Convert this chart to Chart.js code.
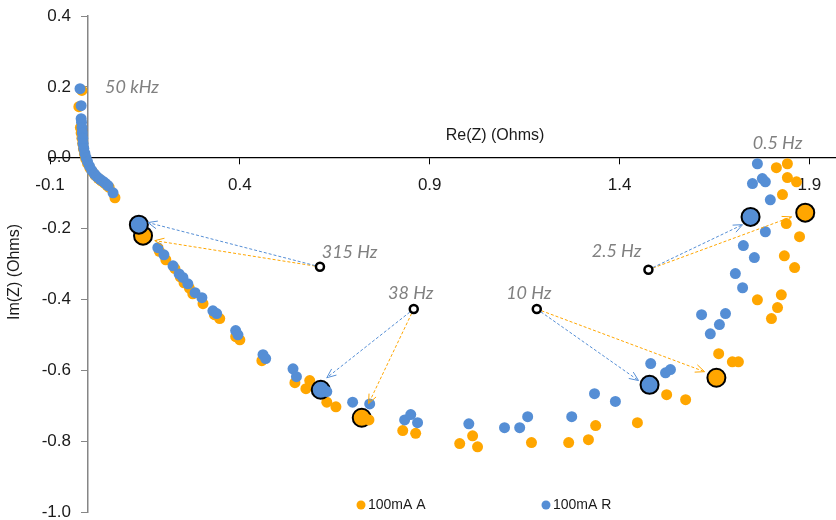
<!DOCTYPE html>
<html>
<head>
<meta charset="utf-8">
<script src="https://cdn.jsdelivr.net/npm/chart.js@4.4.1/dist/chart.umd.min.js"></script>
<style>
  body { margin: 0; background: #fff; }
  #wrap { width: 836px; height: 520px; }
</style>
</head>
<body>
<div id="wrap"><canvas id="nyquist" width="836" height="520"></canvas></div>
<script>
// Series 100mA A (orange) - Re / Im in Ohms
const aRe = [-0.016, -0.024, -0.020, -0.018, -0.016, -0.014, -0.012, -0.009, -0.006, -0.001, 0.005, 0.012, 0.019, 0.027, 0.035, 0.043, 0.050, 0.056, 0.071,
  0.188, 0.205, 0.229, 0.243, 0.253, 0.267, 0.276, 0.303, 0.333, 0.347, 0.389, 0.400, 0.458, 0.545, 0.574, 0.584, 0.629, 0.653, 0.740,
  0.829, 0.863, 0.979, 1.013, 1.026, 1.168, 1.266, 1.318, 1.337, 1.447, 1.524, 1.574, 1.661, 1.697, 1.713, 1.763, 1.826, 1.816, 1.800,
  1.834, 1.861, 1.839, 1.874, 1.829, 1.842, 1.866, 1.813, 1.842];
const aIm = [0.190, 0.144, 0.085, 0.070, 0.055, 0.040, 0.025, 0.010, -0.003, -0.016, -0.029, -0.040, -0.050, -0.058, -0.065, -0.072, -0.078, -0.084, -0.113,
  -0.264, -0.288, -0.313, -0.336, -0.353, -0.368, -0.384, -0.412, -0.443, -0.454, -0.505, -0.514, -0.573, -0.635, -0.652, -0.629, -0.690, -0.703, -0.740,
  -0.770, -0.778, -0.807, -0.785, -0.816, -0.804, -0.804, -0.796, -0.756, -0.748, -0.669, -0.683, -0.553, -0.576, -0.576, -0.401, -0.387, -0.423, -0.454,
  -0.277, -0.310, -0.186, -0.223, -0.104, -0.056, -0.068, -0.028, -0.017];

// Series 100mA R (blue)
const rRe = [-0.021, -0.018, -0.018, -0.017, -0.016, -0.015, -0.014, -0.013, -0.011, -0.008, -0.005, -0.001, 0.004, 0.010, 0.017, 0.024, 0.032, 0.040, 0.047, 0.053, 0.066,
  0.184, 0.200, 0.224, 0.240, 0.250, 0.263, 0.282, 0.300, 0.329, 0.339, 0.389, 0.395, 0.461, 0.468, 0.540, 0.549, 0.629, 0.697, 0.742,
  0.834, 0.850, 0.868, 1.003, 1.097, 1.137, 1.158, 1.274, 1.334, 1.389, 1.482, 1.521, 1.534, 1.616, 1.679, 1.663, 1.639,
  1.705, 1.724, 1.755, 1.726, 1.784, 1.797, 1.750, 1.776, 1.784, 1.763];
const rIm = [0.195, 0.147, 0.110, 0.100, 0.085, 0.070, 0.055, 0.040, 0.026, 0.012, 0.000, -0.012, -0.024, -0.036, -0.046, -0.054, -0.061, -0.067, -0.073, -0.079, -0.099,
  -0.254, -0.274, -0.305, -0.328, -0.338, -0.356, -0.381, -0.395, -0.432, -0.440, -0.488, -0.500, -0.556, -0.567, -0.596, -0.618, -0.660, -0.690, -0.695,
  -0.740, -0.725, -0.748, -0.751, -0.762, -0.762, -0.731, -0.731, -0.666, -0.688, -0.581, -0.607, -0.598, -0.443, -0.440, -0.471, -0.497,
  -0.327, -0.367, -0.282, -0.248, -0.209, -0.119, -0.073, -0.059, -0.068, -0.017];

// Highlighted points at 315 Hz, 38 Hz, 10 Hz, 2.5 Hz
const hiARe = [0.145, 0.721, 1.655, 1.889];
const hiAIm = [-0.220, -0.734, -0.621, -0.155];
const hiRRe = [0.134, 0.613, 1.479, 1.745];
const hiRIm = [-0.189, -0.655, -0.641, -0.167];

// Frequency callouts
const freqLabels = ['50 kHz', '315 Hz', '38 Hz', '10 Hz', '2.5 Hz', '0.5 Hz'];
const freqLabelRe = [0.116, 0.689, 0.850, 1.161, 1.392, 1.816];
const freqLabelIm = [0.198, -0.268, -0.381, -0.381, -0.265, 0.042];
const ringRe = [0.611, 0.858, 1.182, 1.476];
const ringIm = [-0.308, -0.427, -0.427, -0.316];
const arrowRRe = [0.158, 0.629, 1.450, 1.724];
const arrowRIm = [-0.183, -0.621, -0.629, -0.189];
const arrowARe = [0.176, 0.739, 1.624, 1.853];
const arrowAIm = [-0.234, -0.694, -0.604, -0.167];

const xTicks = [-0.1, 0.4, 0.9, 1.4, 1.9];
const yTicks = [0.4, 0.2, 0.0, -0.2, -0.4, -0.6, -0.8, -1.0];

const ORANGE = '#FFA600';
const BLUE = '#558ED5';

function toPoints(xs, ys) {
    return xs.map((v, i) => ({x: v, y: ys[i]}));
}

// axes positionnés sur l'autre axe : pas de place réservée dans la mise en page
function noLayoutSpace(scale) {
    scale.paddingLeft = 0;
    scale.paddingRight = 0;
    scale.paddingTop = 0;
    scale.paddingBottom = 0;
    if (scale.isHorizontal()) scale.height = 0; else scale.width = 0;
}

// Dessin des flèches, étiquettes, titres d'axes et légende
const overlayPlugin = {
    id: 'overlay',
    afterDatasetsDraw(chart) {
        const {ctx, scales: {x, y}} = chart;
        const drawArrow = (x0, y0, x1, y1, color) => {
            const ang = Math.atan2(y1 - y0, x1 - x0);
            const sx = x0 + Math.cos(ang) * 5, sy = y0 + Math.sin(ang) * 5;
            ctx.save();
            ctx.strokeStyle = color;
            ctx.lineWidth = 1;
            ctx.setLineDash([3, 2]);
            ctx.beginPath();
            ctx.moveTo(sx, sy);
            ctx.lineTo(x1, y1);
            ctx.stroke();
            ctx.setLineDash([]);
            ctx.beginPath();
            ctx.moveTo(x1 - 10 * Math.cos(ang - 0.4), y1 - 10 * Math.sin(ang - 0.4));
            ctx.lineTo(x1, y1);
            ctx.lineTo(x1 - 10 * Math.cos(ang + 0.4), y1 - 10 * Math.sin(ang + 0.4));
            ctx.stroke();
            ctx.restore();
        };
        ringRe.forEach((re, i) => {
            const px = x.getPixelForValue(re), py = y.getPixelForValue(ringIm[i]);
            drawArrow(px, py, x.getPixelForValue(arrowARe[i]), y.getPixelForValue(arrowAIm[i]), ORANGE);
            drawArrow(px, py, x.getPixelForValue(arrowRRe[i]), y.getPixelForValue(arrowRIm[i]), BLUE);
            // anneau
            ctx.save();
            ctx.beginPath();
            ctx.arc(px, py, 4, 0, Math.PI * 2);
            ctx.fillStyle = '#fff';
            ctx.fill();
            ctx.lineWidth = 2.5;
            ctx.strokeStyle = '#000';
            ctx.stroke();
            ctx.restore();
        });
    },
    afterDraw(chart) {
        const {ctx, scales: {x, y}} = chart;
        ctx.save();
        ctx.textBaseline = 'middle';

        // étiquettes de l'axe vertical, à gauche de la ligne Re = 0
        ctx.textAlign = 'right';
        ctx.fillStyle = '#1a1a1a';
        ctx.font = '17px "Liberation Sans"';
        const axisX = x.getPixelForValue(0);
        y.ticks.forEach(t => {
            ctx.fillText(t.value.toFixed(1), axisX - 17, y.getPixelForValue(t.value));
        });

        ctx.textAlign = 'center';
        ctx.fillStyle = '#808080';
        ctx.font = 'italic 18px Lato';
        freqLabels.forEach((t, i) => {
            ctx.fillText(t, x.getPixelForValue(freqLabelRe[i]), y.getPixelForValue(freqLabelIm[i]));
        });

        // titres d'axes
        ctx.fillStyle = '#1a1a1a';
        ctx.font = '16px "Liberation Sans"';
        ctx.fillText('Re(Z) (Ohms)', 495, 136);
        ctx.save();
        ctx.translate(15, 272);
        ctx.rotate(-Math.PI / 2);
        ctx.fillText('Im(Z) (Ohms)', 0, 0);
        ctx.restore();

        // légende
        ctx.font = '14px "Liberation Sans"';
        ctx.textAlign = 'left';
        const items = [{t: '100mA A', c: ORANGE, x: 361}, {t: '100mA R', c: BLUE, x: 546}];
        items.forEach(it => {
            ctx.beginPath();
            ctx.arc(it.x, 505, 4.5, 0, Math.PI * 2);
            ctx.fillStyle = it.c;
            ctx.fill();
            ctx.fillStyle = '#1a1a1a';
            ctx.fillText(it.t, it.x + 7, 505);
        });
        ctx.restore();
    }
};

const ctx = document.getElementById('nyquist').getContext('2d');
new Chart(ctx, {
    type: 'scatter',
    data: {
        datasets: [
            {label: '100mA R', data: toPoints(rRe, rIm), backgroundColor: BLUE, borderColor: BLUE, pointRadius: 5.5, borderWidth: 0},
            {label: 'R highlight', data: toPoints(hiRRe, hiRIm), backgroundColor: BLUE, borderColor: '#000', pointRadius: 9, borderWidth: 2},
            {label: '100mA A', data: toPoints(aRe, aIm), backgroundColor: ORANGE, borderColor: ORANGE, pointRadius: 5.5, borderWidth: 0},
            {label: 'A highlight', data: toPoints(hiARe, hiAIm), backgroundColor: ORANGE, borderColor: '#000', pointRadius: 9, borderWidth: 2}
        ]
    },
    options: {
        responsive: false,
        animation: false,
        layout: {autoPadding: false, padding: {left: 50, right: 0, top: 16, bottom: 8}},
        plugins: {
            legend: {display: false},
            tooltip: {enabled: false}
        },
        scales: {
            x: {
                type: 'linear',
                min: -0.1,
                max: 1.97,
                position: {y: 0},
                afterBuildTicks: scale => { scale.ticks = xTicks.map(v => ({value: v})); },
                afterFit: noLayoutSpace,
                grid: {drawOnChartArea: false, tickLength: 6, color: '#000'},
                border: {color: '#000', width: 1.3},
                ticks: {
                    padding: 11,
                    color: '#1a1a1a',
                    font: {family: '"Liberation Sans"', size: 17},
                    callback: v => v.toFixed(1)
                }
            },
            y: {
                type: 'linear',
                min: -1.0,
                max: 0.4,
                position: {x: 0},
                afterBuildTicks: scale => { scale.ticks = yTicks.map(v => ({value: v})); },
                afterFit: noLayoutSpace,
                grid: {drawOnChartArea: false, tickLength: 6, color: '#868686'},
                border: {color: '#868686', width: 1.5},
                ticks: {display: false}
            }
        }
    },
    plugins: [overlayPlugin]
});
</script>
</body>
</html>
